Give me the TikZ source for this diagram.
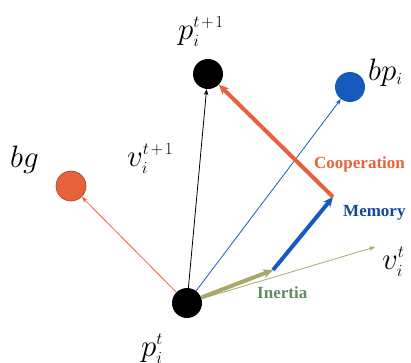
\documentclass[tikz,border=0pt]{standalone}
\usepackage{fix-cm}
\usepackage{fontspec}
\setmainfont{Liberation Serif}
\usetikzlibrary{arrows.meta}
\DeclareMathSizes{31}{31}{17}{12}
\definecolor{coopred}{RGB}{231,98,60}
\definecolor{memblue}{RGB}{22,90,190}
\definecolor{inertolive}{RGB}{168,168,108}
\definecolor{inertgreen}{RGB}{95,140,100}
\newcommand{\tplus}{t\mkern2mu+\mkern2mu1}
\begin{document}
\begin{tikzpicture}[x=1pt,y=-1pt,
  dot/.style={circle,minimum size=30pt,inner sep=0pt},
  lbl/.style={font=\fontsize{31}{34}\selectfont,inner sep=0pt,anchor=base west},
  tag/.style={font=\fontsize{17}{20}\selectfont\bfseries,inner sep=0pt,anchor=base west},
  vecthin/.style={line width=0.8pt,-{Stealth[length=6pt,width=4.5pt]}},
  vecthick/.style={line width=4pt,-{Stealth[length=10pt,width=9pt]}}]
\useasboundingbox (0,0) rectangle (411,362);
% particles
\node[dot,fill=black] (pt) at (187,303) {};
\node[dot,fill=black] (pnext) at (208,74) {};
\node[dot,fill=memblue] (bp) at (350,87) {};
\node[dot,fill=coopred,draw=coopred!70!black,line width=0.6pt] (bg) at (71,186) {};
\coordinate (vt) at (375,247);
\coordinate (m1) at (273,270);
\coordinate (m2) at (333,197);
% labels
\node[lbl] (lpt) at (141,356) {$p_i^t$};
\node[lbl] (lpnext) at (178,39) {$p_i^{\tplus}$};
\node[lbl] (lbp) at (368,80) {$bp_i$};
\node[lbl] (lbg) at (10,167) {$bg$};
\node[lbl] (lvnext) at (127,166) {$v_i^{\tplus}$};
\node[lbl] (lvt) at (382,269) {$v_i^t$};
\node[tag,text=coopred] (coop) at (314,168) {Cooperation};
\node[tag,text=memblue!80!black] (mem) at (343,216) {Memory};
\node[tag,text=inertgreen] (inert) at (257,298) {Inertia};
% vectors
\draw[vecthin,black] (pt) -- (pnext);
\draw[vecthin,coopred] (pt) -- (bg);
\draw[vecthin,memblue] (pt) -- (bp);
\draw[vecthin,inertolive] (pt) -- (vt);
\draw[vecthick,inertolive] (pt) -- (m1);
\draw[vecthick,memblue] (m1) -- (m2);
\draw[vecthick,coopred] (m2) -- (pnext);
\end{tikzpicture}
\end{document}
